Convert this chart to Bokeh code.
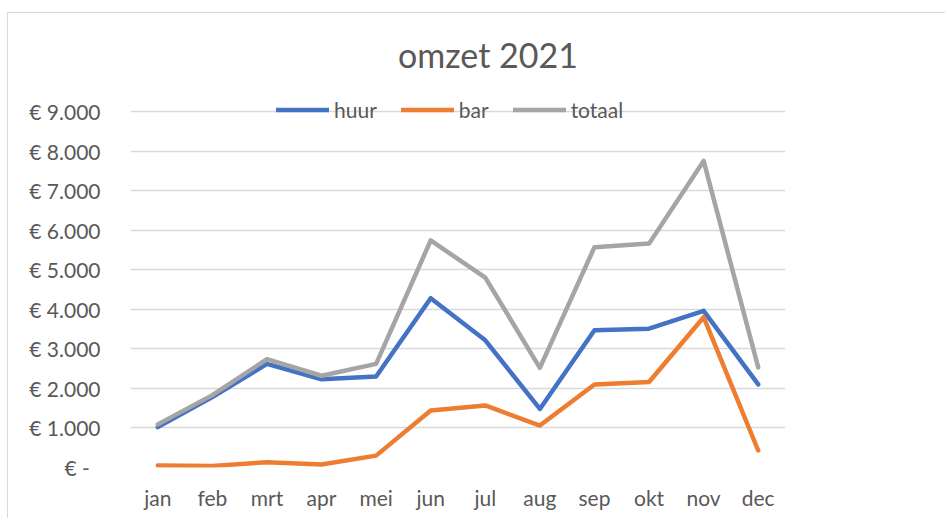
from bokeh.plotting import figure
from bokeh.models import (FactorRange, Range1d, FixedTicker, CustomJSTickFormatter,
                          Legend, LegendItem, Label)
from bokeh.embed import file_html
from bokeh.resources import INLINE

months = ["jan", "feb", "mrt", "apr", "mei", "jun", "jul", "aug", "sep", "okt", "nov", "dec"]
huur = [1020, 1780, 2620, 2230, 2300, 4280, 3215, 1480, 3470, 3510, 3960, 2100]
bar = [50, 40, 135, 75, 300, 1440, 1570, 1060, 2100, 2160, 3800, 430]
totaal = [1090, 1830, 2740, 2320, 2620, 5740, 4800, 2520, 5570, 5660, 7750, 2530]
y_ticks = [0, 1000, 2000, 3000, 4000, 5000, 6000, 7000, 8000, 9000]
title_text = "omzet 2021"

FONT = "Lato"
TXT = "#595959"

# frame: 0 at page y=467, 9000 at y=111; frame extended to the canvas top so the
# legend and the title can sit inside it
Y_TOP = 9000 * 454 / 356
p = figure(width=938, height=506, x_range=FactorRange(*months, range_padding=0),
           y_range=Range1d(0, Y_TOP), output_backend="svg", toolbar_location=None,
           title=None, min_border_left=122, min_border_right=161, min_border_top=0,
           min_border_bottom=52)
p.styles = {"border-left": "1px solid #D9D9D9", "border-top": "1px solid #D9D9D9",
            "margin-top": "12px", "margin-left": "7px"}
p.outline_line_color = None
p.background_fill_color = "white"
p.border_fill_color = "white"

colors = ["#4472C4", "#ED7D31", "#A5A5A5"]
names = ["huur", "bar", "totaal"]
renderers = []
for vals, c in zip([huur, bar, totaal], colors):
    r = p.line(months, vals, line_color=c, line_width=4.5, line_join="round", line_cap="round")
    renderers.append(r)

p.add_layout(Label(x=6, y=y_ticks[-1], x_offset=30, y_offset=57, text=title_text,
                   text_align="center", text_baseline="alphabetic", text_font=FONT,
                   text_font_size="34px", text_color=TXT))

p.xgrid.grid_line_color = None
p.ygrid.grid_line_color = "#D9D9D9"
p.ygrid.grid_line_width = 1.3
p.yaxis.ticker = FixedTicker(ticks=y_ticks)
p.yaxis.formatter = CustomJSTickFormatter(code="""
if (tick == 0) { return "\u20ac -\u00a0\u00a0"; }
var s = Math.round(tick).toString().replace(/\\B(?=(\\d{3})+(?!\\d))/g, ".");
return "\u20ac " + s;
""")
for ax in [p.xaxis[0], p.yaxis[0]]:
    ax.axis_line_color = None
    ax.major_tick_line_color = None
    ax.minor_tick_line_color = None
    ax.major_label_text_font = FONT
    ax.major_label_text_font_size = "21px"
    ax.major_label_text_color = TXT
p.yaxis.major_label_standoff = 24
p.xaxis.major_label_standoff = 11

legend = Legend(items=[LegendItem(label=n, renderers=[r]) for n, r in zip(names, renderers)],
                orientation="horizontal", location=(146, 345), margin=0, padding=0,
                spacing=24, glyph_width=53, glyph_height=21, label_height=21,
                label_standoff=5, border_line_color=None, background_fill_alpha=0,
                label_text_font=FONT, label_text_font_size="21px", label_text_color=TXT)
p.add_layout(legend, "center")

open("out.html", "w").write(file_html(p, INLINE))
